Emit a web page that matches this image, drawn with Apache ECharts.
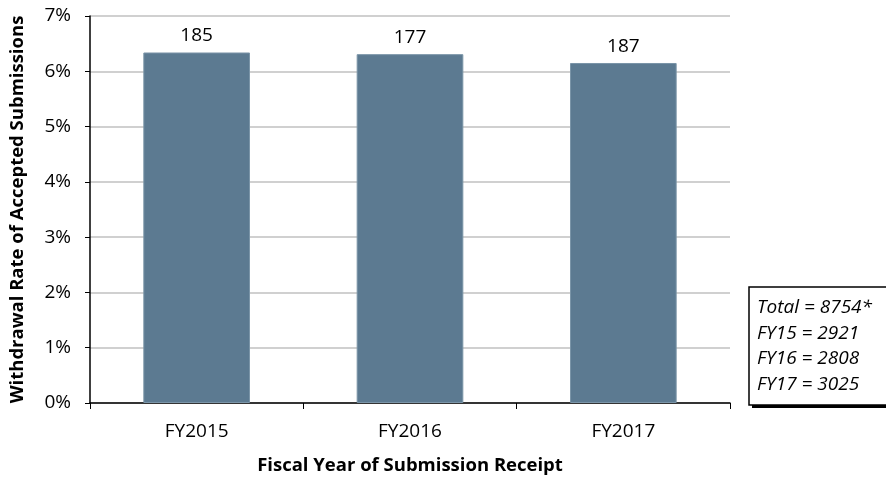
<!DOCTYPE html>
<html>
<head>
<meta charset="utf-8">
<script src="https://cdn.jsdelivr.net/npm/echarts@6/dist/echarts.min.js"></script>
<style>
  html, body { margin: 0; padding: 0; background: #fff; }
  #chart { width: 886px; height: 480px; }
</style>
</head>
<body>
<div id="chart"></div>
<script>
// data
const years = ["FY2015", "FY2016", "FY2017"];
const withdrawRate = [6.34, 6.31, 6.15];   // percent
const withdrawCount = [185, 177, 187];
const noteLines = ["Total = 8754*", "FY15 = 2921", "FY16 = 2808", "FY17 = 3025"];

const font = "'Open Sans', 'Noto Sans', sans-serif";

const chart = echarts.init(document.getElementById("chart"));

chart.setOption({
  animation: false,
  grid: { left: 90, right: 156, top: 16, bottom: 75 },
  xAxis: {
    type: "category",
    data: years,
    name: "Fiscal Year of Submission Receipt",
    nameLocation: "middle",
    nameGap: 53,
    nameTextStyle: { fontFamily: font, fontWeight: "bold", fontSize: 18.5, color: "#000" },
    axisLine: { lineStyle: { color: "#000", width: 1.5 } },
    axisTick: { show: true, length: 6, lineStyle: { color: "#000" } },
    axisLabel: { fontFamily: font, fontSize: 19, color: "#000", margin: 19 }
  },
  yAxis: {
    type: "value",
    min: 0,
    max: 7,
    interval: 1,
    name: "Withdrawal Rate of Accepted Submissions",
    nameLocation: "middle",
    nameGap: 63,
    nameTextStyle: { fontFamily: font, fontWeight: "bold", fontSize: 18.5, color: "#000" },
    axisLine: { show: true, lineStyle: { color: "#000", width: 1.5 } },
    axisTick: { show: true, length: 5, lineStyle: { color: "#000" } },
    axisLabel: { fontFamily: font, fontSize: 19, color: "#000", formatter: "{value}%", margin: 19 },
    splitLine: { lineStyle: { color: "#c0c0c0", width: 1.5 } }
  },
  series: [{
    type: "bar",
    data: withdrawRate,
    barWidth: "50%",
    itemStyle: { color: "#5c7a91", borderColor: "#7b95a8", borderWidth: 1 },
    label: {
      show: true,
      position: "top",
      distance: 7,
      fontFamily: font,
      fontSize: 19,
      color: "#000",
      formatter: p => withdrawCount[p.dataIndex]
    }
  }],
  graphic: [{
    type: "group",
    x: 749,
    y: 287,
    children: [
      // drop shadow
      {
        type: "rect",
        shape: { x: 3, y: 3, width: 150, height: 118 },
        style: { fill: "#000" }
      },
      {
        type: "rect",
        shape: { x: 0, y: 0, width: 150, height: 118 },
        style: { fill: "#fff", stroke: "#000", lineWidth: 1.5 }
      },
      ...noteLines.map((t, i) => ({
        type: "text",
        x: 8,
        y: 21 + i * 25.5,
        style: {
          text: t,
          fontFamily: font,
          fontStyle: "italic",
          fontSize: 19,
          fill: "#000",
          verticalAlign: "middle"
        }
      }))
    ]
  }]
});
</script>
</body>
</html>
